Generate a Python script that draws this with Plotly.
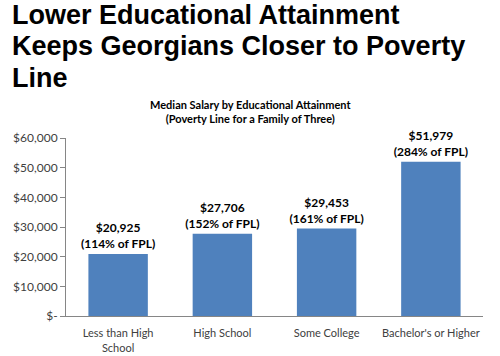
import plotly.graph_objects as go

categories = ["Less than High<br>School", "High School", "Some College", "Bachelor's or Higher"]
salaries = [20925, 27706, 29453, 51979]
fpl_pct = [114, 152, 161, 284]
tick_vals = [0, 10000, 20000, 30000, 40000, 50000, 60000]
tick_text = ["$-", "$10,000", "$20,000", "$30,000", "$40,000", "$50,000", "$60,000"]
title_lines = ["Lower Educational Attainment", "Keeps Georgians Closer to Poverty", "Line"]

labels = [f"<b>${v:,}<br>({p}% of FPL)</b>" for v, p in zip(salaries, fpl_pct)]

W, H = 500, 356
L, R, T, B = 66, 17, 138, 40
pw, ph = W - L - R, H - T - B

def px_x(x):
    return (x - L) / pw

def px_y(y):
    return (H - B - y) / ph

fig = go.Figure(go.Bar(
    x=categories, y=salaries, text=labels, textposition="outside",
    marker=dict(color="#4F81BD", line=dict(width=0)),
    textfont=dict(family="Lato", size=12, color="#000000"),
    cliponaxis=False, constraintext="none",
))

annotations = []
for i, line in enumerate(title_lines):
    annotations.append(dict(
        text=f"<b>{line}</b>",
        x=px_x(10), y=px_y(15 + i * 31.5), xref="paper", yref="paper",
        xanchor="left", yanchor="middle", align="left", showarrow=False,
        font=dict(family="Liberation Sans", size=27, color="#000000"),
    ))
annotations.append(dict(
    text="<b>Median Salary by Educational Attainment<br>(Poverty Line for a Family of Three)</b>",
    x=px_x(250), y=px_y(111), xref="paper", yref="paper",
    xanchor="center", yanchor="middle", showarrow=False,
    font=dict(family="Lato", size=11, color="#000000"),
))

fig.update_layout(
    width=W, height=H,
    margin=dict(l=L, r=R, t=T, b=B, autoexpand=False),
    paper_bgcolor="white", plot_bgcolor="white",
    bargap=0.43,
    showlegend=False,
    annotations=annotations,
    yaxis=dict(
        range=[0, 60000], tickvals=tick_vals, ticktext=tick_text,
        showgrid=False, zeroline=False, showline=True, linecolor="#868686", linewidth=1,
        ticks="outside", ticklen=5, tickcolor="#868686",
        tickfont=dict(family="Lato", size=12, color="#404040"),
    ),
    xaxis=dict(
        showline=True, linecolor="#868686", linewidth=1, ticks="",
        ticklabelstandoff=7,
        tickfont=dict(family="Lato", size=11, color="#404040"),
    ),
)

fig.write_html(
    "out.html",
    config={"displayModeBar": False},
    post_script="document.body.style.margin='0';document.body.style.overflow='hidden';",
)
